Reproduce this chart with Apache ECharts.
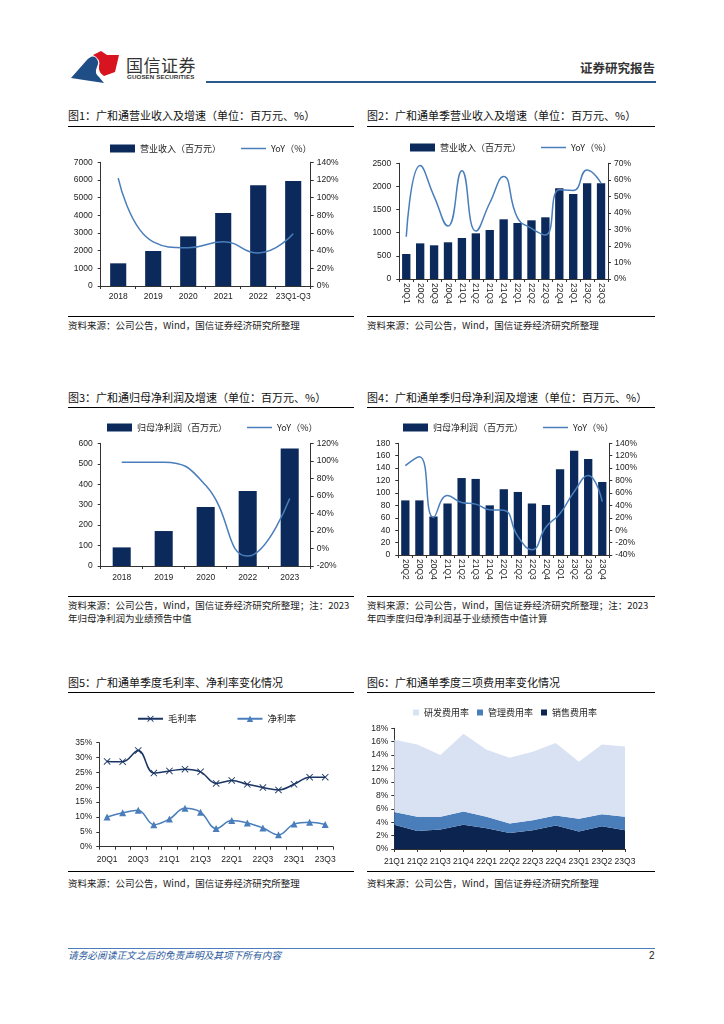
<!DOCTYPE html>
<html><head><meta charset="utf-8">
<script src="https://cdn.jsdelivr.net/npm/echarts@6/dist/echarts.min.js"></script>
<style>
html,body{margin:0;padding:0;background:#fff}
body{width:724px;height:1024px;position:relative;overflow:hidden;font-family:"Noto Sans CJK SC","Noto Sans",sans-serif;color:#111}
.t{position:absolute;white-space:nowrap;line-height:1}
.ti{font-size:11px;color:#111}
.src{font-size:9.5px;color:#222}
.ln{position:absolute;height:1px;background:#000}
.ch{position:absolute}
</style></head><body>

<svg style="position:absolute;left:0;top:0" width="724" height="100">
  <path d="M71,78 L86,61 Q91,55 95,57 Q100,61 97,67 Q94,73 99,77 L104,83 L84,80 Z" fill="#1f4e86"/>
  <path d="M93,55 L101,51 L107,55 L119,55 L115,72 L104,76 Q98,72 99,66 Q101,59 93,55 Z" fill="#d7141f"/>
</svg>
<div class="t" style="left:126px;top:56px;font-size:17px;color:#333;letter-spacing:0.5px">国信证券</div>
<div class="t" style="left:127px;top:74px;font-size:6.2px;font-weight:bold;color:#333;font-family:'Liberation Sans',sans-serif;letter-spacing:0.1px">GUOSEN SECURITIES</div>
<div style="position:absolute;left:206px;top:81px;width:450px;height:2px;background:#2a5a8f"></div>
<div class="t" style="right:69px;top:62px;font-size:12.5px;font-weight:bold;color:#333">证券研究报告</div>

<!-- row 1 -->
<div class="t ti" style="left:68px;top:110px">图1：广和通营业收入及增速（单位：百万元、%）</div>
<div class="ln" style="left:68px;top:126px;width:286px"></div>
<div class="t ti" style="left:367px;top:110px">图2：广和通单季营业收入及增速（单位：百万元、%）</div>
<div class="ln" style="left:367px;top:126px;width:288px"></div>
<div id="c1" class="ch" style="left:60px;top:130px;width:300px;height:185px"></div>
<div id="c2" class="ch" style="left:360px;top:130px;width:300px;height:185px"></div>
<div class="ln" style="left:68px;top:316px;width:286px"></div>
<div class="ln" style="left:367px;top:316px;width:288px"></div>
<div class="t src" style="left:68px;top:321px">资料来源：公司公告，Wind，国信证券经济研究所整理</div>
<div class="t src" style="left:367px;top:321px">资料来源：公司公告，Wind，国信证券经济研究所整理</div>

<!-- row 2 -->
<div class="t ti" style="left:68px;top:392px">图3：广和通归母净利润及增速（单位：百万元、%）</div>
<div class="ln" style="left:68px;top:407px;width:286px"></div>
<div class="t ti" style="left:367px;top:392px">图4：广和通单季归母净利润及增速（单位：百万元、%）</div>
<div class="ln" style="left:367px;top:407px;width:288px"></div>
<div id="c3" class="ch" style="left:60px;top:412px;width:300px;height:180px"></div>
<div id="c4" class="ch" style="left:360px;top:412px;width:300px;height:184px"></div>
<div class="ln" style="left:68px;top:596px;width:286px"></div>
<div class="ln" style="left:367px;top:596px;width:288px"></div>
<div class="t src" style="left:68px;top:601px">资料来源：公司公告，Wind，国信证券经济研究所整理；注：2023</div>
<div class="t src" style="left:68px;top:614px">年归母净利润为业绩预告中值</div>
<div class="t src" style="left:367px;top:601px">资料来源：公司公告，Wind，国信证券经济研究所整理；注：2023</div>
<div class="t src" style="left:367px;top:614px">年四季度归母净利润基于业绩预告中值计算</div>

<!-- row 3 -->
<div class="t ti" style="left:68px;top:677px">图5：广和通单季度毛利率、净利率变化情况</div>
<div class="ln" style="left:68px;top:692px;width:286px"></div>
<div class="t ti" style="left:367px;top:677px">图6：广和通单季度三项费用率变化情况</div>
<div class="ln" style="left:367px;top:692px;width:288px"></div>
<div id="c5" class="ch" style="left:60px;top:697px;width:300px;height:172px"></div>
<div id="c6" class="ch" style="left:360px;top:697px;width:300px;height:172px"></div>
<div class="ln" style="left:68px;top:871px;width:286px"></div>
<div class="ln" style="left:367px;top:871px;width:288px"></div>
<div class="t src" style="left:68px;top:879px">资料来源：公司公告，Wind，国信证券经济研究所整理</div>
<div class="t src" style="left:367px;top:879px">资料来源：公司公告，Wind，国信证券经济研究所整理</div>

<!-- footer -->
<div style="position:absolute;left:68px;top:948px;width:587px;height:1px;background:#4a7ebb"></div>
<div class="t" style="left:68px;top:951px;font-size:9.7px;font-style:italic;color:#2a5a9c">请务必阅读正文之后的免责声明及其项下所有内容</div>
<div class="t" style="left:649px;top:951px;font-size:10px;color:#222;font-family:'Liberation Sans',sans-serif">2</div>

<script>
// ---------- data ----------
const c1Cats = ['2018','2019','2020','2021','2022','23Q1-Q3'];
const c1Rev  = [1283,1980,2810,4130,5700,5945];
const c1Yoy  = [122,50,43.4,50,37.4,59];

const c2Cats = ['20Q1','20Q2','20Q3','20Q4','21Q1','21Q2','21Q3','21Q4','22Q1','22Q2','22Q3','22Q4','23Q1','23Q2','23Q3'];
const c2Rev  = [540,770,728,793,886,987,1059,1290,1210,1268,1333,1960,1837,2070,2070];
const c2Yoy  = [25.6,68.6,50,32,65.5,29,46,62,37,30.6,26.6,54,53.5,66,58];

const c3Cats = ['2018','2019','2020','2022','2023'];
const c3Np   = [91,171,289,367,575];
const c3Yoy  = [98.5,98.5,72,-8.6,57];

const c4Cats = ['20Q2','20Q3','20Q4','21Q1','21Q2','21Q3','21Q4','22Q1','22Q2','22Q3','22Q4','23Q1','23Q2','23Q3','23Q4'];
const c4Np   = [88,88,62,83,124,122.6,80,106,101.6,83,80.6,138,168,154.7,117.7];
const c4Yoy  = [104,118.5,20.7,56,44.7,42,33,32,-10,-31.5,5,27,62,88,46];

const c5Cats = ['20Q1','20Q2','20Q3','20Q4','21Q1','21Q2','21Q3','21Q4','22Q1','22Q2','22Q3','22Q4','23Q1','23Q2','23Q3'];
const c5Gross = [28.7,28.6,32.4,24.8,25.5,26.1,25.2,21.3,22.3,21.0,19.9,19.1,21.0,23.4,23.4];
const c5Net   = [10.0,11.4,12.3,7.4,9.3,12.9,11.6,6.1,8.8,8.0,6.3,4.0,7.6,8.2,7.5];

const c6Cats = ['21Q1','21Q2','21Q3','21Q4','22Q1','22Q2','22Q3','22Q4','23Q1','23Q2','23Q3'];
const c6Sales = [3.6,2.7,2.9,3.6,3.1,2.4,2.8,3.5,2.6,3.4,2.8];
const c6Admin = [1.9,2.1,1.9,2.0,1.7,1.4,1.5,1.5,1.9,1.8,2.0];
const c6RD    = [10.8,10.8,9.2,11.6,10.0,9.8,10.2,10.8,8.5,10.4,10.5];

// ---------- styles ----------
const NAVY = '#0b2a5b', LBLUE = '#4a7ebb';
const CJK = '"Noto Sans CJK SC", sans-serif';
const NUM = '"Liberation Sans", Arial, sans-serif';
const AX = '#333';
const lab = (extra) => Object.assign({fontSize:8.5, color:'#222', fontFamily:NUM, formatter: v => String(v)}, extra||{});
const axLine = {show:true, lineStyle:{color:AX, width:1}};
const axTick = {show:true, length:3, lineStyle:{color:AX, width:1}};
const legendBase = {itemWidth:25, itemHeight:8, itemGap:20, padding:0, symbolKeepAspect:true,
  textStyle:{fontSize:9, fontFamily:CJK, color:'#222'}};
const pct = v => v + '%';
const LINEICON = 'path://M0,0 L50,0 L50,3 L0,3 Z';

function mk(id, opt){
  const el = document.getElementById(id);
  const c = echarts.init(el, null, {renderer:'canvas'});
  opt.animation = false;
  c.setOption(opt);
}
// convert page coordinates to container-relative grid
function grid(divX, divY, x1, y1, x2, y2){
  return {left:x1-divX, top:y1-divY, width:x2-x1, height:y2-y1, containLabel:false};
}

// Chart 1
mk('c1', {
  grid: grid(60,130, 100.7,162.3, 310.7,286),
  legend: Object.assign({}, legendBase, {left:50, top:14,
    data:[{name:'营业收入（百万元）', icon:'rect'}, {name:'YoY（%）', icon:LINEICON}]}),
  xAxis: {type:'category', data:c1Cats, axisLine:axLine, axisTick:axTick, axisLabel:lab({margin:6, interval:0})},
  yAxis: [
    {type:'value', min:0, max:7000, interval:1000, axisLine:axLine, axisTick:axTick, splitLine:{show:false}, axisLabel:lab({margin:8})},
    {type:'value', min:0, max:140, interval:20, position:'right', axisLine:axLine, axisTick:axTick, splitLine:{show:false}, axisLabel:lab({margin:6, formatter:pct})}
  ],
  series: [
    {name:'营业收入（百万元）', type:'bar', data:c1Rev, barWidth:'46%', itemStyle:{color:NAVY}},
    {name:'YoY（%）', type:'line', yAxisIndex:1, data:c1Yoy, smooth:0.5, symbol:'none', lineStyle:{color:LBLUE, width:1.5}, itemStyle:{color:LBLUE}}
  ]
});

// Chart 2
mk('c2', {
  grid: grid(360,130, 399.3,163.3, 608,279),
  legend: Object.assign({}, legendBase, {left:50, top:13,
    data:[{name:'营业收入（百万元）', icon:'rect'}, {name:'YoY（%）', icon:LINEICON}]}),
  xAxis: {type:'category', data:c2Cats, axisLine:axLine, axisTick:axTick, axisLabel:lab({margin:4, interval:0, rotate:-90})},
  yAxis: [
    {type:'value', min:0, max:2500, interval:500, axisLine:axLine, axisTick:axTick, splitLine:{show:false}, axisLabel:lab({margin:8})},
    {type:'value', min:0, max:70, interval:10, position:'right', axisLine:axLine, axisTick:axTick, splitLine:{show:false}, axisLabel:lab({margin:6, formatter:pct})}
  ],
  series: [
    {name:'营业收入（百万元）', type:'bar', data:c2Rev, barWidth:'60%', itemStyle:{color:NAVY}},
    {name:'YoY（%）', type:'line', yAxisIndex:1, data:c2Yoy, smooth:0.5, symbol:'none', lineStyle:{color:LBLUE, width:1.5}, itemStyle:{color:LBLUE}}
  ]
});

// Chart 3
mk('c3', {
  grid: grid(60,412, 100.7,443.3, 310.7,566),
  legend: Object.assign({}, legendBase, {left:47, top:11,
    data:[{name:'归母净利润（百万元）', icon:'rect'}, {name:'YoY（%）', icon:LINEICON}]}),
  xAxis: {type:'category', data:c3Cats, axisLine:axLine, axisTick:axTick, axisLabel:lab({margin:7, interval:0})},
  yAxis: [
    {type:'value', min:0, max:600, interval:100, axisLine:axLine, axisTick:axTick, splitLine:{show:false}, axisLabel:lab({margin:8})},
    {type:'value', min:-20, max:120, interval:20, position:'right', axisLine:axLine, axisTick:axTick, splitLine:{show:false}, axisLabel:lab({margin:6, formatter:pct})}
  ],
  series: [
    {name:'归母净利润（百万元）', type:'bar', data:c3Np, barWidth:'43%', itemStyle:{color:NAVY}},
    {name:'YoY（%）', type:'line', yAxisIndex:1, data:c3Yoy, smooth:0.5, symbol:'none', lineStyle:{color:LBLUE, width:1.5}, itemStyle:{color:LBLUE}}
  ]
});

// Chart 4
mk('c4', {
  grid: grid(360,412, 398.3,443.3, 609.3,555),
  legend: Object.assign({}, legendBase, {left:43, top:11,
    data:[{name:'归母净利润（百万元）', icon:'rect'}, {name:'YoY（%）', icon:LINEICON}]}),
  xAxis: {type:'category', data:c4Cats, axisLine:axLine, axisTick:axTick, axisLabel:lab({margin:4, interval:0, rotate:-90})},
  yAxis: [
    {type:'value', min:0, max:180, interval:20, axisLine:axLine, axisTick:axTick, splitLine:{show:false}, axisLabel:lab({margin:8})},
    {type:'value', min:-40, max:140, interval:20, position:'right', axisLine:axLine, axisTick:axTick, splitLine:{show:false}, axisLabel:lab({margin:6, formatter:pct})}
  ],
  series: [
    {name:'归母净利润（百万元）', type:'bar', data:c4Np, barWidth:'59%', itemStyle:{color:NAVY}},
    {name:'YoY（%）', type:'line', yAxisIndex:1, data:c4Yoy, smooth:0.5, symbol:'none', lineStyle:{color:LBLUE, width:1.5}, itemStyle:{color:LBLUE}}
  ]
});

// Chart 5
const XSYM = 'path://M0,0.9 L0.9,0 L5,4.1 L9.1,0 L10,0.9 L5.9,5 L10,9.1 L9.1,10 L5,5.9 L0.9,10 L0,9.1 L4.1,5 Z';
const G5 = '#1a3564';
mk('c5', {
  grid: grid(60,697, 99.3,742.7, 333,846.7),
  legend: Object.assign({}, legendBase, {left:77, top:17, itemGap:40,
    textStyle:{fontSize:9.5, fontFamily:CJK, color:'#222'},
    data:[{name:'毛利率'}, {name:'净利率'}]}),
  xAxis: {type:'category', data:c5Cats, axisLine:axLine, axisTick:Object.assign({}, axTick, {interval:0}), axisLabel:lab({margin:8, interval:1})},
  yAxis: {type:'value', min:0, max:35, interval:5, axisLine:axLine, axisTick:axTick, splitLine:{show:false}, axisLabel:lab({margin:7, formatter:pct})},
  series: [
    {name:'毛利率', type:'line', data:c5Gross, smooth:0.4, symbol:XSYM, symbolSize:7,
      lineStyle:{color:G5, width:1.5}, itemStyle:{color:G5}},
    {name:'净利率', type:'line', data:c5Net, smooth:0.4, symbol:'triangle', symbolSize:7,
      lineStyle:{color:LBLUE, width:1.5}, itemStyle:{color:LBLUE}}
  ]
});

// Chart 6
const C6 = ['#d9e2f3', '#4a7ebb', '#0b2550'];
mk('c6', {
  grid: grid(360,697, 394.3,728.3, 625,849),
  legend: Object.assign({}, legendBase, {left:53, top:11, itemWidth:6, itemHeight:6, itemGap:8,
    textStyle:{fontSize:9, fontFamily:CJK, color:'#222'},
    data:[{name:'研发费用率', icon:'rect'}, {name:'管理费用率', icon:'rect'}, {name:'销售费用率', icon:'rect'}]}),
  xAxis: {type:'category', data:c6Cats, boundaryGap:false, axisLine:axLine, axisTick:axTick, axisLabel:lab({margin:8, interval:0})},
  yAxis: {type:'value', min:0, max:18, interval:2, axisLine:axLine, axisTick:axTick, splitLine:{show:false}, axisLabel:lab({margin:6, formatter:pct})},
  series: [
    {name:'销售费用率', type:'line', stack:'fee', data:c6Sales, symbol:'none', lineStyle:{width:0}, areaStyle:{color:C6[2], opacity:1}, itemStyle:{color:C6[2]}},
    {name:'管理费用率', type:'line', stack:'fee', data:c6Admin, symbol:'none', lineStyle:{width:0}, areaStyle:{color:C6[1], opacity:1}, itemStyle:{color:C6[1]}},
    {name:'研发费用率', type:'line', stack:'fee', data:c6RD, symbol:'none', lineStyle:{width:0}, areaStyle:{color:C6[0], opacity:1}, itemStyle:{color:C6[0]}}
  ]
});
</script>
</body></html>
